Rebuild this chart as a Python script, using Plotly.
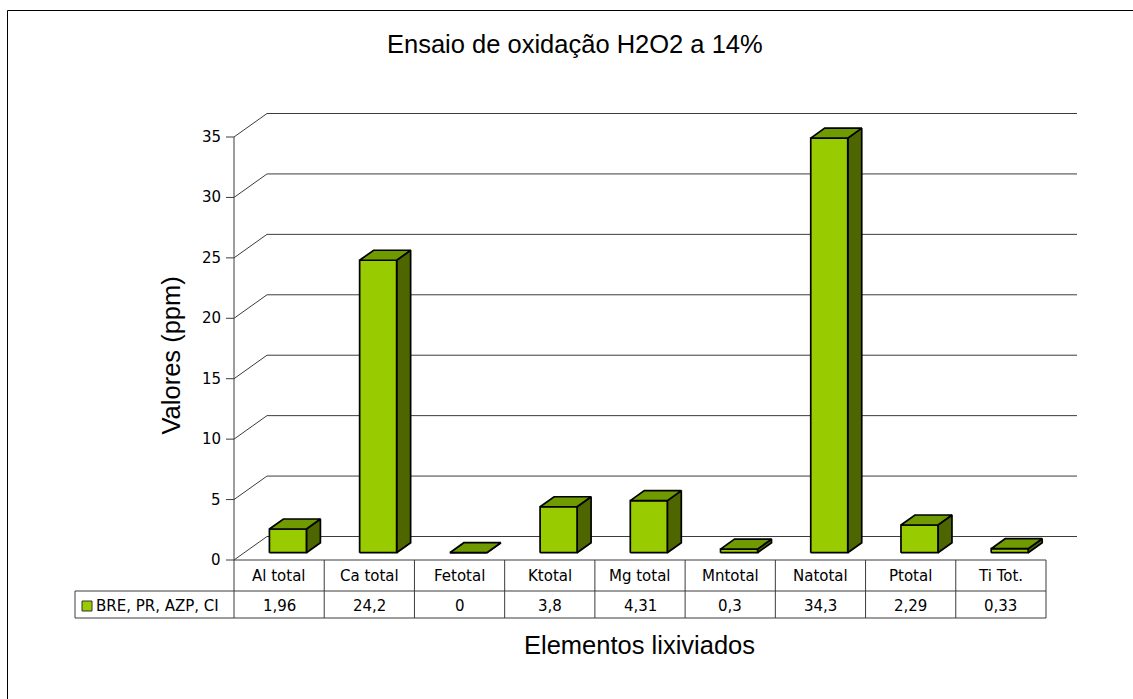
import plotly.graph_objects as go

# ---------------- data ----------------
categories = ["Al total", "Ca total", "Fetotal", "Ktotal", "Mg total",
              "Mntotal", "Natotal", "Ptotal", "Ti Tot."]
values = [1.96, 24.2, 0, 3.8, 4.31, 0.3, 34.3, 2.29, 0.33]
series_name = "BRE, PR, AZP, CI"
y_ticks = [0, 5, 10, 15, 20, 25, 30, 35]
title_text = "Ensaio de oxidação H2O2 a 14%"
x_title = "Elementos lixiviados"
y_title = "Valores (ppm)"

# ---------------- geometry (pixel calibration) ----------------
W, H = 1133, 699
PX_LEFT = 234.0            # left edge of category band
PX_COL = 812.0 / 9         # px per category
PY_ZERO = 560.0            # y pixel of value 0 (front)
PY_UNIT = 423.0 / 35       # px per value unit

X0 = -0.5 - PX_LEFT / PX_COL
X1 = X0 + W / PX_COL
Y1 = PY_ZERO / PY_UNIT
Y0 = -(H - PY_ZERO) / PY_UNIT


def fx(px):
    return -0.5 + (px - PX_LEFT) / PX_COL


def fy(py):
    return (PY_ZERO - py) / PY_UNIT


FDX, FDY = 33 / PX_COL, 23.5 / PY_UNIT      # floor/back wall depth
BOX, BOY = 8.8 / PX_COL, 7.3 / PY_UNIT      # bar front offset
BDX, BDY = 14 / PX_COL, 10 / PY_UNIT        # bar depth
BHW = 18.5 / PX_COL                         # bar half width
X_BACK_END = fx(1077)
n = len(categories)

FRONT = "#99CC00"
TOP = "#6F9A00"
SIDE = "#4E6600"
GRID = "#3c3c3c"

fig = go.Figure()

# ---------------- gridlines (back wall + side wall) ----------------
gx, gy = [], []
for t in y_ticks:
    gx += [-0.5, -0.5 + FDX, X_BACK_END, None]
    gy += [t, t + FDY, t + FDY, None]
    gx += [fx(226), -0.5, None]
    gy += [t, t, None]
gx += [-0.5, -0.5, None]
gy += [y_ticks[0], y_ticks[-1], None]
fig.add_trace(go.Scatter(x=gx, y=gy, mode="lines",
                         line=dict(color=GRID, width=1),
                         hoverinfo="skip", showlegend=False))

# ---------------- 3D bars ----------------
fxs, fys, txs, tys, sxs, sys_ = [], [], [], [], [], []
for i, v in enumerate(values):
    xl = i - BHW + BOX
    xr = i + BHW + BOX
    yb = BOY
    yt = v + BOY
    fxs += [xl, xr, xr, xl, xl, None]
    fys += [yb, yb, yt, yt, yb, None]
    txs += [xl, xr, xr + BDX, xl + BDX, xl, None]
    tys += [yt, yt, yt + BDY, yt + BDY, yt, None]
    sxs += [xr, xr + BDX, xr + BDX, xr, xr, None]
    sys_ += [yb, yb + BDY, yt + BDY, yt, yb, None]

for xs, ys, col in [(sxs, sys_, SIDE), (fxs, fys, FRONT), (txs, tys, TOP)]:
    fig.add_trace(go.Scatter(x=xs, y=ys, mode="lines", fill="toself",
                             fillcolor=col,
                             line=dict(color="black", width=1.7),
                             hoverinfo="skip", showlegend=False))

# ---------------- data table ----------------
shapes = []
line_style = dict(color="#3c3c3c", width=1)
y_hdr_top, y_hdr_bot, y_row_bot = fy(560), fy(591), fy(618)
x_leg_left = fx(75)
shapes.append(dict(type="line", xref="x", yref="y", x0=-0.5, x1=n - 0.5,
                   y0=y_hdr_top, y1=y_hdr_top, line=line_style))
for yy in (y_hdr_bot, y_row_bot):
    shapes.append(dict(type="line", xref="x", yref="y", x0=x_leg_left,
                       x1=n - 0.5, y0=yy, y1=yy, line=line_style))
for k in range(n + 1):
    shapes.append(dict(type="line", xref="x", yref="y", x0=k - 0.5,
                       x1=k - 0.5, y0=y_hdr_top, y1=y_row_bot,
                       line=line_style))
shapes.append(dict(type="line", xref="x", yref="y", x0=x_leg_left,
                   x1=x_leg_left, y0=y_hdr_bot, y1=y_row_bot,
                   line=line_style))
# legend key
shapes.append(dict(type="rect", xref="x", yref="y", x0=fx(82), x1=fx(92),
                   y0=fy(611), y1=fy(601), fillcolor=FRONT,
                   line=dict(color="#333333", width=1)))
# outer chart border (only left and top edges are inside the view)
border = dict(color="black", width=1)
shapes.append(dict(type="line", xref="x", yref="y", x0=fx(7.5), x1=fx(7.5),
                   y0=fy(10.5), y1=fy(H), line=border))
shapes.append(dict(type="line", xref="x", yref="y", x0=fx(7.5), x1=fx(W),
                   y0=fy(10.5), y1=fy(10.5), line=border))

annotations = []
small = dict(family="DejaVu Sans", size=15, color="black")
for i, (c, v) in enumerate(zip(categories, values)):
    annotations.append(dict(x=i, y=fy(575.5), xref="x", yref="y", text=c,
                            showarrow=False, font=small,
                            xanchor="center", yanchor="middle"))
    annotations.append(dict(x=i, y=fy(606), xref="x", yref="y",
                            text=f"{v:g}".replace(".", ","),
                            showarrow=False, font=small,
                            xanchor="center", yanchor="middle"))
annotations.append(dict(x=fx(94), y=fy(606), xref="x", yref="y",
                        text=series_name, showarrow=False, font=small,
                        xanchor="left", yanchor="middle"))
for t in y_ticks:
    annotations.append(dict(x=fx(223), y=t, xref="x", yref="y", text=str(t),
                            showarrow=False, font=small,
                            xanchor="right", yanchor="middle"))

big = dict(family="Liberation Sans, Arial", size=25.5, color="black")
annotations.append(dict(x=fx(575), y=fy(44), xref="x", yref="y",
                        text=title_text, showarrow=False, font=big,
                        xanchor="center", yanchor="middle"))
annotations.append(dict(x=fx(639), y=fy(645), xref="x", yref="y",
                        text=x_title, showarrow=False, font=big,
                        xanchor="center", yanchor="middle"))
annotations.append(dict(x=fx(170), y=fy(355.5), xref="x", yref="y",
                        text=y_title, showarrow=False, font=big,
                        textangle=-90, xanchor="center", yanchor="middle"))

fig.update_layout(
    width=W, height=H,
    margin=dict(l=0, r=0, t=0, b=0),
    paper_bgcolor="white", plot_bgcolor="white",
    xaxis=dict(range=[X0, X1], visible=False, fixedrange=True),
    yaxis=dict(range=[Y0, Y1], visible=False, fixedrange=True),
    shapes=shapes, annotations=annotations,
    showlegend=False,
)

fig.write_html(
    "out.html",
    config={"displayModeBar": False},
    post_script="document.body.style.margin='0';document.body.style.padding='0';",
)
